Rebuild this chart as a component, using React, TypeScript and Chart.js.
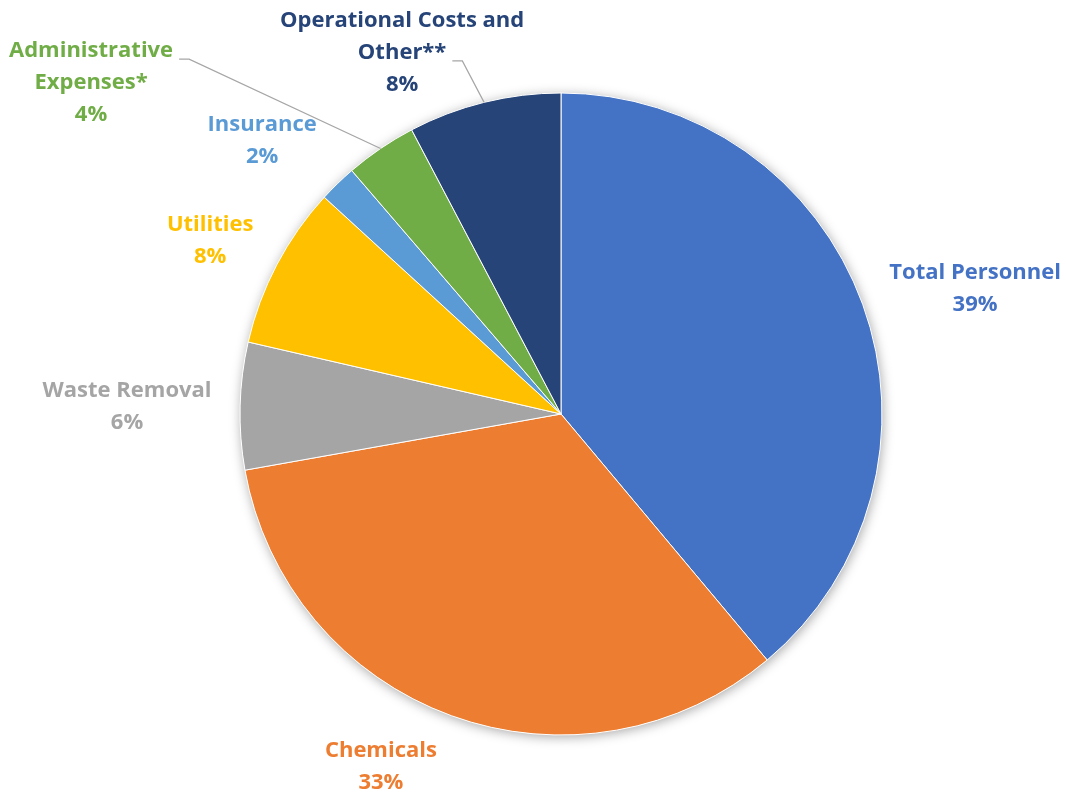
import React, { useEffect, useRef } from "react";
import { Chart, registerables } from "chart.js";

Chart.register(...registerables);

const categories = [
  "Total Personnel",
  "Chemicals",
  "Waste Removal",
  "Utilities",
  "Insurance",
  "Administrative Expenses*",
  "Systems Maintenance and Operational Costs and Other**",
];
const values = [38.9, 33.3, 6.4, 8.2, 1.9, 3.6, 7.7];
const colors = ["#4472C4", "#ED7D31", "#A5A5A5", "#FFC000", "#5B9BD5", "#70AD47", "#264478"];
const labelLines = [
  ["Total Personnel"],
  ["Chemicals"],
  ["Waste Removal"],
  ["Utilities"],
  ["Insurance"],
  ["Administrative", "Expenses*"],
  ["Systems Maintenance and", "Operational Costs and", "Other**"],
];

// label block centre, relative to pie centre, in units of the radius
const labelOffsets: [number, number][] = [
  [1.29, -0.396],
  [-0.561, 1.093],
  [-1.352, -0.028],
  [-1.093, -0.545],
  [-0.931, -0.857],
  [-1.464, -1.037],
  [-0.495, -1.181],
];
// which label line a leader line attaches to (-1 = none)
const leaderLine = [-1, -1, -1, -1, -1, 0, 2];

const FONT = "bold 22px 'Open Sans', Lato, sans-serif";
const LINE_H = 32;

const labelPlugin = {
  id: "pieLabels",
  beforeDatasetsDraw(chart: any) {
    const meta = chart.getDatasetMeta(0);
    const arc = meta.data[0];
    if (!arc) return;
    const { x, y, outerRadius } = arc.getProps(["x", "y", "outerRadius"], true);
    const ctx = chart.ctx;
    ctx.save();
    ctx.beginPath();
    ctx.arc(x, y, outerRadius, 0, Math.PI * 2);
    ctx.fillStyle = "#ffffff";
    ctx.shadowColor = "rgba(0,0,0,0.35)";
    ctx.shadowBlur = 12;
    ctx.shadowOffsetX = 1;
    ctx.shadowOffsetY = 2;
    ctx.fill();
    ctx.restore();
  },
  afterDatasetsDraw(chart: any) {
    const meta = chart.getDatasetMeta(0);
    const ctx = chart.ctx;
    const data = chart.data.datasets[0].data as number[];
    const total = data.reduce((a, b) => a + b, 0);
    ctx.save();
    ctx.font = FONT;
    ctx.textAlign = "center";
    ctx.textBaseline = "alphabetic";
    meta.data.forEach((el: any, i: number) => {
      const { x, y, outerRadius, startAngle, endAngle } = el.getProps(
        ["x", "y", "outerRadius", "startAngle", "endAngle"],
        true
      );
      const lines = [...labelLines[i], Math.round((data[i] / total) * 100) + "%"];
      const ax = x + labelOffsets[i][0] * outerRadius;
      const ay = y + labelOffsets[i][1] * outerRadius;
      const n = lines.length;
      ctx.fillStyle = colors[i];
      lines.forEach((t, k) => {
        const by = ay + (k - (n - 1) / 2) * LINE_H + 8;
        ctx.fillText(t, ax, by);
      });
      const k = leaderLine[i];
      if (k >= 0) {
        const w = ctx.measureText(lines[k]).width;
        const ly = ay + (k - (n - 1) / 2) * LINE_H + 8 + 2;
        const sx = ax + w / 2 + 6;
        const ex = sx + 10;
        const mid = (startAngle + endAngle) / 2;
        const px = x + Math.cos(mid) * outerRadius;
        const py = y + Math.sin(mid) * outerRadius;
        ctx.beginPath();
        ctx.moveTo(sx, ly);
        ctx.lineTo(ex, ly);
        ctx.lineTo(px, py);
        ctx.strokeStyle = "#A6A6A6";
        ctx.lineWidth = 1.2;
        ctx.stroke();
      }
    });
    ctx.restore();
  },
};

export default function App() {
  const ref = useRef<HTMLCanvasElement | null>(null);
  useEffect(() => {
    if (!ref.current) return;
    const chart = new Chart(ref.current, {
      type: "pie",
      data: {
        labels: categories,
        datasets: [
          {
            data: values,
            backgroundColor: colors,
            borderColor: "#ffffff",
            borderWidth: 1,
          },
        ],
      },
      options: {
        responsive: false,
        animation: false,
        radius: 321,
        layout: { padding: { left: 56, right: 0, top: 32, bottom: 0 } },
        plugins: {
          legend: { display: false },
          tooltip: { enabled: false },
        },
      } as any,
      plugins: [labelPlugin],
    });
    return () => chart.destroy();
  }, []);
  return (
    <div style={{ position: "absolute", left: 0, top: 0, width: 1066, height: 796, background: "#fff" }}>
      <canvas ref={ref} width={1066} height={796} />
    </div>
  );
}
